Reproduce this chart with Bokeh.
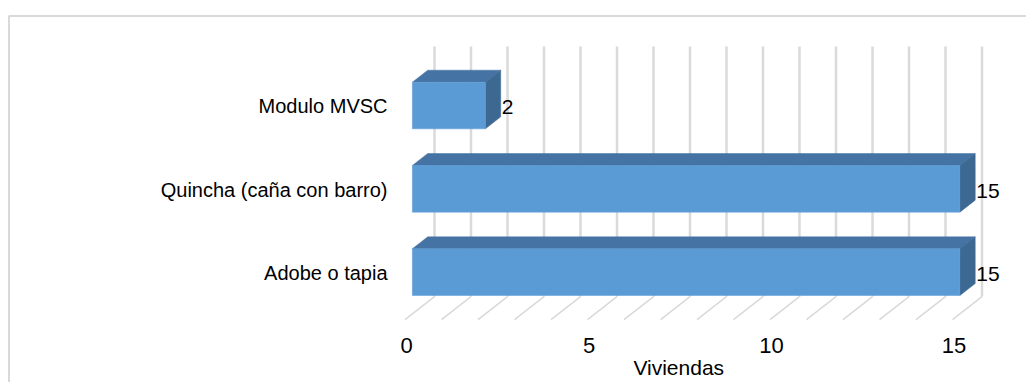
from bokeh.plotting import figure
from bokeh.models import Range1d, ColumnDataSource
from bokeh.core.properties import value
from bokeh.embed import file_html
from bokeh.resources import INLINE

# --- data -------------------------------------------------------------
categories = ["Adobe o tapia", "Quincha (caña con barro)", "Modulo MVSC"]
viviendas = [15, 15, 2]
x_ticks = [0, 5, 10, 15]
x_tick_labels = ["0", "5", "10", "15"]
x_title = "Viviendas"
axis_max = 15

# --- layout of the pseudo-3D box (pixels) ------------------------------
W, H = 1026, 382
PX_PER_UNIT = 36.5        # horizontal pixels per vivienda
ORIGIN_X = 404.5          # pixel column of value 0 on the front floor edge
ROW_PX = 83.33            # pixels between category rows
ROW0_Y = 277.4            # pixel row of the first category on the front plane
DEPTH_PX = (29.5, 23.0)   # screen offset of the full box depth (right, up)
BAR_D0, BAR_D1 = 0.25, 0.77   # bar depth span inside the box
BAR_HALF = 0.28               # half bar thickness, in category units

FONT = value("Liberation Sans")
GRID = "#D9D9D9"
FRONT, TOP, SIDE = "#5B9BD5", "#4473A4", "#3C6892"

x_range = Range1d(-ORIGIN_X / PX_PER_UNIT, (W - ORIGIN_X) / PX_PER_UNIT)
y_range = Range1d((ROW0_Y - H) / ROW_PX, ROW0_Y / ROW_PX)
DX = DEPTH_PX[0] / PX_PER_UNIT
DY = DEPTH_PX[1] / ROW_PX


def px_x(px):
    return (px - ORIGIN_X) / PX_PER_UNIT


def px_y(py):
    return (ROW0_Y - py) / ROW_PX


p = figure(width=W, height=H, x_range=x_range, y_range=y_range,
           x_axis_location=None, y_axis_location=None,
           toolbar_location=None, output_backend="svg",
           min_border=0, outline_line_color=None,
           background_fill_color="white", border_fill_color="white")
p.grid.visible = False

n = len(categories)
floor_y = -0.5
wall_top = n - 0.5

# back wall verticals and floor diagonals, one per unit
gx, gy, fx, fy = [], [], [], []
for v in range(0, axis_max + 1):
    gx.append([v + DX, v + DX])
    gy.append([floor_y + DY, wall_top + DY])
    fx.append([v, v + DX])
    fy.append([floor_y, floor_y + DY])
p.multi_line(gx, gy, line_color="#DADADA", line_width=2.5)
p.multi_line(fx, fy, line_color=GRID, line_width=1.5)

# bars: front, top and right faces projected with the depth offset
front = dict(left=[], right=[], bottom=[], top=[])
top_xs, top_ys, side_xs, side_ys = [], [], [], []
for c, v in enumerate(viviendas):
    y0, y1 = c - BAR_HALF, c + BAR_HALF
    front["left"].append(0 + BAR_D0 * DX)
    front["right"].append(v + BAR_D0 * DX)
    front["bottom"].append(y0 + BAR_D0 * DY)
    front["top"].append(y1 + BAR_D0 * DY)
    top_xs.append([0 + BAR_D0 * DX, v + BAR_D0 * DX, v + BAR_D1 * DX, 0 + BAR_D1 * DX])
    top_ys.append([y1 + BAR_D0 * DY, y1 + BAR_D0 * DY, y1 + BAR_D1 * DY, y1 + BAR_D1 * DY])
    side_xs.append([v + BAR_D0 * DX, v + BAR_D1 * DX, v + BAR_D1 * DX, v + BAR_D0 * DX])
    side_ys.append([y0 + BAR_D0 * DY, y0 + BAR_D1 * DY, y1 + BAR_D1 * DY, y1 + BAR_D0 * DY])

p.patches(top_xs, top_ys, fill_color=TOP, line_color=TOP, line_width=0.5)
p.patches(side_xs, side_ys, fill_color=SIDE, line_color=SIDE, line_width=0.5)
p.quad(source=ColumnDataSource(front), left="left", right="right",
       bottom="bottom", top="top", fill_color=FRONT, line_color=FRONT, line_width=0.5)

# value labels to the right of each bar
lab = ColumnDataSource(dict(
    x=[v + BAR_D1 * DX for v in viviendas],
    y=[c + BAR_D0 * DY for c in range(n)],
    t=[str(v) for v in viviendas]))
p.text(x="x", y="y", text="t", source=lab, x_offset=1, y_offset=2,
       text_font=FONT, text_font_size="21px", text_color="black",
       text_align="left", text_baseline="middle")

# category labels
cat = ColumnDataSource(dict(
    x=[px_x(387)] * n,
    y=[c + BAR_D0 * DY for c in range(n)],
    t=categories))
p.text(x="x", y="y", text="t", source=cat, y_offset=1,
       text_font=FONT, text_font_size="20px", text_color="black",
       text_align="right", text_baseline="middle")

# value axis tick labels and title
ticks = ColumnDataSource(dict(x=x_ticks, y=[px_y(345)] * len(x_ticks), t=x_tick_labels))
p.text(x="x", y="y", text="t", source=ticks, x_offset=1.5,
       text_font=FONT, text_font_size="22px", text_color="black",
       text_align="center", text_baseline="middle")
p.text(x=[(x_ticks[0] + x_ticks[-1]) / 2], y=[px_y(367)], text=[x_title],
       text_font=FONT, text_font_size="21px", text_color="black",
       text_align="center", text_baseline="middle")

# chart area border (left and top edges)
p.line([px_x(8.5), px_x(8.5), px_x(W + 5)], [px_y(H + 5), px_y(15.5), px_y(15.5)],
       line_color=GRID, line_width=2)

open("out.html", "w").write(file_html(p, INLINE))
